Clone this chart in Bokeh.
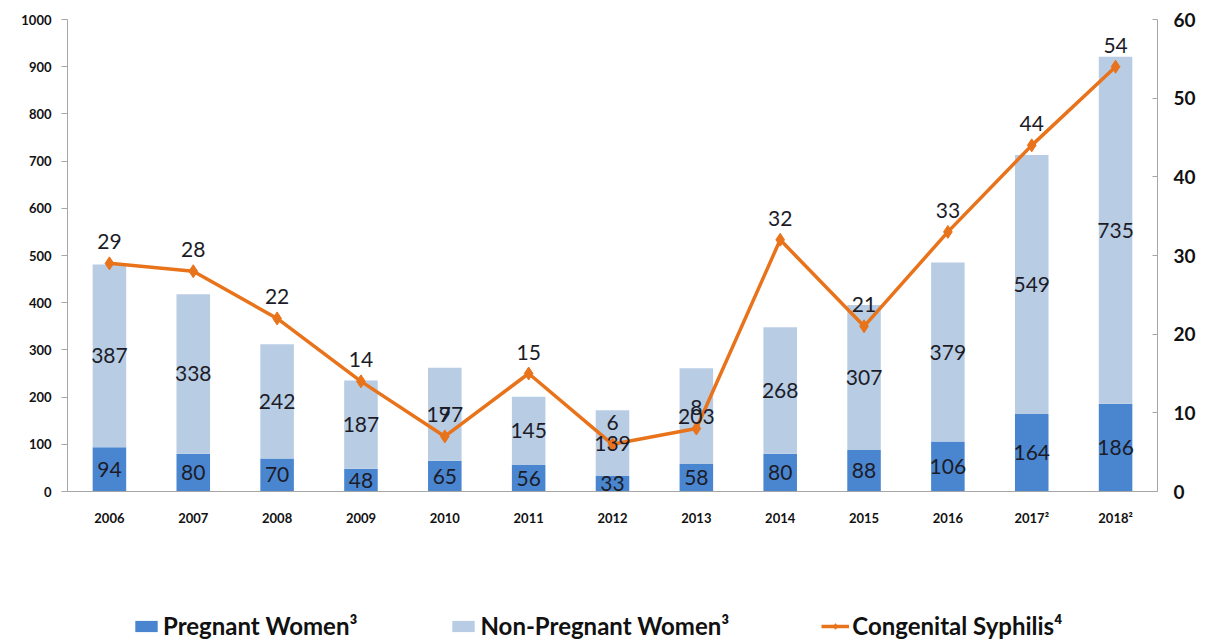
from bokeh.plotting import figure
from bokeh.models import (ColumnDataSource, FactorRange, Range1d, LinearAxis,
                          Legend, LegendItem, LabelSet, SingleIntervalTicker)
from bokeh.layouts import column
from bokeh.core.properties import value
from bokeh.embed import file_html
from bokeh.resources import INLINE

years = ["2006", "2007", "2008", "2009", "2010", "2011", "2012", "2013",
         "2014", "2015", "2016", "2017²", "2018²"]
pregnant = [94, 80, 70, 48, 65, 56, 33, 58, 80, 88, 106, 164, 186]
non_pregnant = [387, 338, 242, 187, 197, 145, 139, 203, 268, 307, 379, 549, 735]
congenital = [29, 28, 22, 14, 7, 15, 6, 8, 32, 21, 33, 44, 54]
legend_labels = ["Pregnant Women³", "Non-Pregnant Women³", "Congenital Syphilis⁴"]

C_PREG = "#4A86D0"
C_NONP = "#B8CCE4"
C_LINE = "#E8731A"
TXT = "#1c1c28"
FONT = "Lato"

src = ColumnDataSource(dict(
    year=years, preg=pregnant, nonp=non_pregnant, cs=congenital,
    preg_mid=[p / 2 for p in pregnant],
    nonp_mid=[p + n / 2 for p, n in zip(pregnant, non_pregnant)],
    preg_lbl=[str(v) for v in pregnant],
    nonp_lbl=[str(v) for v in non_pregnant],
    cs_lbl=[str(v) for v in congenital],
))


def draw_series(fig, y_name):
    bars = fig.vbar_stack(["preg", "nonp"], x="year", width=0.4, source=src,
                          color=[C_PREG, C_NONP], line_color=None)
    ln = fig.line(x="year", y="cs", source=src, y_range_name=y_name,
                  line_color=C_LINE, line_width=3.5)
    pt = fig.scatter(x="year", y="cs", source=src, y_range_name=y_name,
                     marker="diamond", size=13, fill_color=C_LINE, line_color=C_LINE)
    return bars, ln, pt


p = figure(width=1215, height=600, x_range=FactorRange(*years, range_padding=0),
           y_range=Range1d(0, 1000), output_backend="svg", toolbar_location=None,
           min_border_left=67, min_border_right=58, min_border_top=19,
           min_border_bottom=109)
p.outline_line_color = None
p.xgrid.grid_line_color = None
p.ygrid.grid_line_color = None
p.extra_y_ranges = {"cs": Range1d(0, 60)}
draw_series(p, "cs")

for col, ycol, rng, off, base in [("preg_lbl", "preg_mid", None, 0, "middle"),
                                  ("nonp_lbl", "nonp_mid", None, 0, "middle"),
                                  ("cs_lbl", "cs", "cs", 14, "bottom")]:
    kw = dict(x="year", y=ycol, text=col, source=src, text_align="center",
              text_baseline=base, y_offset=off, text_font_size=value("21px"),
              text_color=TXT, text_font=value(FONT))
    if rng:
        kw["y_range_name"] = rng
    p.add_layout(LabelSet(**kw))

ax = p.xaxis[0]
ax.axis_line_color = "#a6a6a6"
ax.major_tick_line_color = None
ax.minor_tick_line_color = None
ax.major_label_text_font = FONT
ax.major_label_text_font_style = "bold"
ax.major_label_text_font_size = "13px"
ax.major_label_text_color = "#111111"
ax.major_label_standoff = 12

ly = p.yaxis[0]
ly.ticker = SingleIntervalTicker(interval=100)
ly.axis_line_color = "#a6a6a6"
ly.major_tick_line_color = "#a6a6a6"
ly.major_tick_out = 6
ly.major_tick_in = 0
ly.minor_tick_line_color = None
ly.major_label_text_font = FONT
ly.major_label_text_font_style = "bold"
ly.major_label_text_font_size = "13px"
ly.major_label_text_color = "#111111"
ly.major_label_standoff = 10

ry = LinearAxis(y_range_name="cs", ticker=SingleIntervalTicker(interval=10))
ry.axis_line_color = "#a6a6a6"
ry.major_tick_line_color = "#a6a6a6"
ry.major_tick_out = 0
ry.major_tick_in = 5
ry.minor_tick_line_color = None
ry.major_label_text_font = FONT
ry.major_label_text_font_style = "bold"
ry.major_label_text_font_size = "19px"
ry.major_label_text_color = "#111111"
ry.major_label_standoff = 12
p.add_layout(ry, "right")

# legend strip below the chart: same series drawn outside its visible ranges
lf = figure(width=1215, height=44, x_range=FactorRange(*years, range_padding=0),
            y_range=Range1d(5000, 6000), output_backend="svg", toolbar_location=None,
            x_axis_location=None, y_axis_location=None, min_border=0)
lf.extra_y_ranges = {"cs": Range1d(5000, 6000)}
lf.outline_line_color = None
lf.xgrid.grid_line_color = None
lf.ygrid.grid_line_color = None
lbars, lline, lpts = draw_series(lf, "cs")

legend = Legend(items=[
    LegendItem(label=legend_labels[0], renderers=[lbars[0]]),
    LegendItem(label=legend_labels[1], renderers=[lbars[1]]),
    LegendItem(label=legend_labels[2], renderers=[lline, lpts]),
], orientation="horizontal", location=(65, 4))
legend.border_line_color = None
legend.background_fill_alpha = 0
legend.padding = 0
legend.margin = 0
legend.spacing = 92
legend.glyph_width = 28
legend.glyph_height = 14
legend.label_height = 24
legend.label_standoff = 3
legend.label_text_font = FONT
legend.label_text_font_style = "bold"
legend.label_text_font_size = "24px"
legend.label_text_color = "#111111"
lf.add_layout(legend, "center")

open("out.html", "w").write(file_html(column(p, lf, spacing=0), INLINE))
